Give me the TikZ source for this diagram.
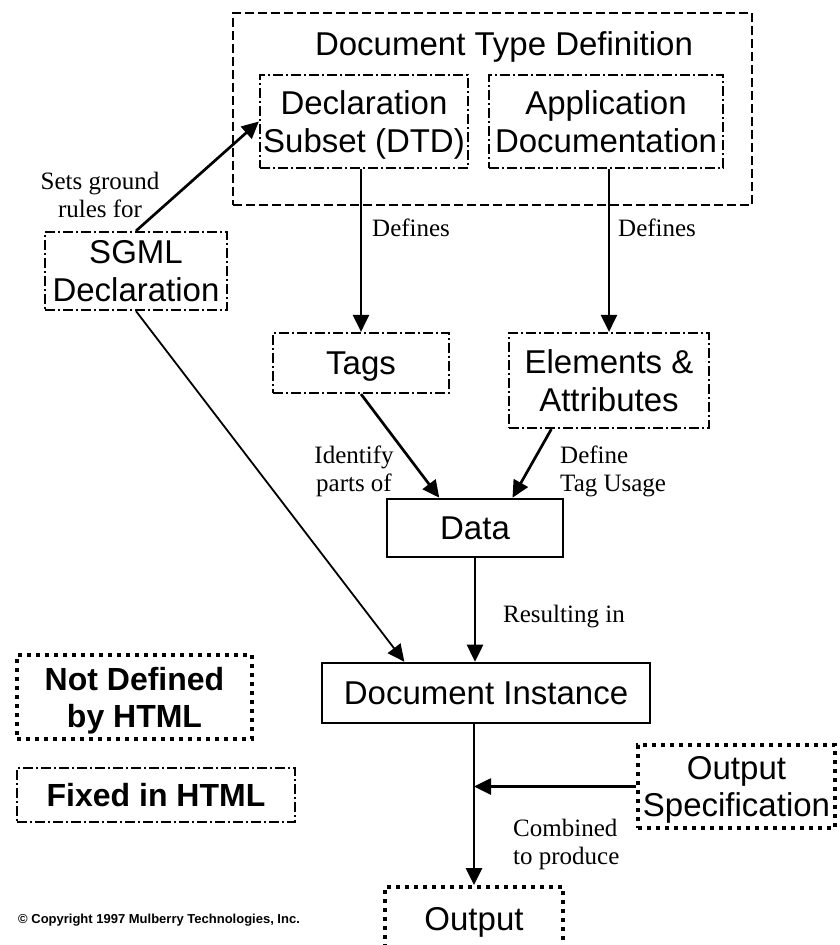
\documentclass[tikz,border=0pt]{standalone}
\usepackage{fontspec}
\setmainfont{Liberation Sans}
\newfontfamily\lblfont{Liberation Serif}
\usetikzlibrary{arrows.meta,calc}
\tikzset{
  box/.style={rectangle, inner sep=0pt, align=center, text depth=0pt, font=\fontsize{33}{37.5}\selectfont},
  solidbox/.style={box, draw, line width=2.6pt},
  dashbox/.style={box, draw, line width=2.6pt, dash pattern=on 9pt off 4pt},
  dashdotbox/.style={box, draw, line width=2.2pt, dash pattern=on 10pt off 3pt on 2pt off 3pt},
  sqdotbox/.style={box, draw, line width=4pt, dash pattern=on 4pt off 5pt},
  legendtext/.style={font=\fontsize{32}{37}\selectfont\bfseries},
  lbl/.style={inner sep=0pt, align=left, font=\fontsize{25}{28}\selectfont\lblfont},
  arr/.style={line width=2.7pt, -{Triangle[length=17pt,width=16pt]}},
  thinarr/.style={line width=1.8pt, -{Triangle[length=17pt,width=16pt]}},
}
\begin{document}
\begin{tikzpicture}[x=1pt,y=-1pt]
\useasboundingbox[fill=white] (0,0) rectangle (840,945);
% outer DTD box
\node[dashbox, minimum width=519pt, minimum height=192pt] (dtd) at (492.5,109) {};
\node[box] (dtdtitle) at (504,44) {Document Type Definition};
\node[dashdotbox, minimum width=208pt, minimum height=93pt] (decl) at (364,121.5) {Declaration\\Subset (DTD)};
\node[dashdotbox, minimum width=234pt, minimum height=93pt] (appdoc) at (606,121.5) {Application\\Documentation};
\node[dashdotbox, minimum width=182pt, minimum height=78pt] (sgml) at (136,271) {SGML\\Declaration};
\node[dashdotbox, minimum width=176pt, minimum height=60pt] (tags) at (361,363) {Tags};
\node[dashdotbox, minimum width=200pt, minimum height=95pt] (elem) at (609,380.5) {Elements \&\\Attributes};
\node[solidbox, minimum width=176pt, minimum height=58pt] (data) at (475,528) {Data};
\node[solidbox, minimum width=328pt, minimum height=60pt] (docinst) at (486,693) {Document Instance};
\node[sqdotbox, minimum width=197pt, minimum height=83pt] (outspec) at (736.5,786.5) {Output\\Specification};
\node[sqdotbox, minimum width=178pt, minimum height=64pt] (output) at (474,919) {Output};
% legend
\node[sqdotbox, legendtext, minimum width=235pt, minimum height=84pt] (notdef) at (134.5,697) {Not Defined\\by HTML};
\node[dashdotbox, legendtext, minimum width=278pt, minimum height=54pt] (fixed) at (156,795) {Fixed in HTML};
\node[anchor=west, inner sep=0pt, font=\fontsize{13}{15}\selectfont\bfseries] (copy) at (18,920) {\textcopyright{} Copyright 1997 Mulberry Technologies, Inc.};
% connectors
\draw[arr] (sgml.north) -- (decl.west);
\draw[arr] (tags.north |- decl.south) -- (tags.north);
\draw[arr] (elem.north |- appdoc.south) -- (elem.north);
\draw[arr] (tags.south) -- ($(data.north west)!0.3!(data.north east)$);
\draw[arr] ($(elem.south west)!0.215!(elem.south east)$) -- ($(data.north west)!0.71!(data.north east)$);
\draw[thinarr] (sgml.south) -- ($(docinst.north west)!0.253!(docinst.north east)$);
\draw[arr] (data.south) -- (data.south |- docinst.north);
\draw[arr] (output.north |- docinst.south) -- (output.north);
\coordinate (join) at (output.north |- outspec.west);
\draw[arr] (outspec.west) -- (join);
% labels
\node[lbl, align=center] (lsets) at (100,195) {Sets ground\\rules for};
\node[lbl, anchor=west] (ldef1) at (372,228) {Defines};
\node[lbl, anchor=west] (ldef2) at (618,228) {Defines};
\node[lbl, align=center] (lident) at (354,471) {Identify\\parts of};
\node[lbl, anchor=west] (ldefine) at (560,471) {Define\\Tag Usage};
\node[lbl, anchor=west] (lres) at (503,617) {Resulting in};
\node[lbl, anchor=west] (lcomb) at (513,844) {Combined\\to produce};
\end{tikzpicture}
\end{document}
